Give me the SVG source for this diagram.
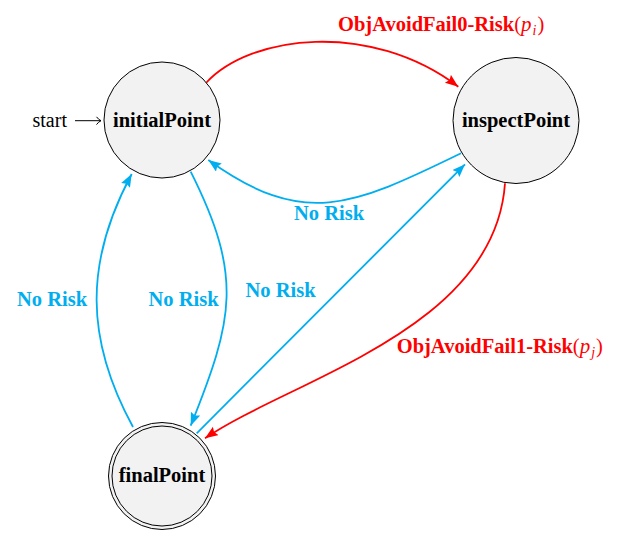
<svg xmlns="http://www.w3.org/2000/svg" width="624" height="540" viewBox="0 0 624 540">
<defs>
<style>
.node{fill:#F2F2F2;stroke:#000;stroke-width:1;}
.nlab{font-family:"Liberation Serif","Times New Roman",serif;font-weight:bold;font-size:20.5px;fill:#000;text-anchor:middle;}
.blue{fill:none;stroke:#00AEEF;stroke-width:1.8;}
.red{fill:none;stroke:#FF0000;stroke-width:1.8;}
.blab{font-family:"Liberation Serif","Times New Roman",serif;font-weight:bold;font-size:20.5px;fill:#00AEEF;}
.rlab{font-family:"Liberation Serif","Times New Roman",serif;font-weight:bold;font-size:20.5px;fill:#FF0000;}
.m{font-weight:normal;}
.mi{font-weight:normal;font-style:italic;}
</style>
<marker id="ab" markerUnits="userSpaceOnUse" markerWidth="16" markerHeight="12" refX="13" refY="5" orient="auto">
<path d="M0,0 L13,5 L0,10 L2,5 z" fill="#00AEEF"/>
</marker>
<marker id="ar" markerUnits="userSpaceOnUse" markerWidth="16" markerHeight="12" refX="13" refY="5" orient="auto">
<path d="M0,0 L13,5 L0,10 L2,5 z" fill="#FF0000"/>
</marker>
</defs>
<rect width="624" height="540" fill="#FFFFFF"/>

<g id="connectors">
<path id="e-init-insp" class="red" d="M206,83 C250,35 370,20 458.3,86.7" marker-end="url(#ar)"/>
<path id="e-insp-init" class="blue" d="M461,153.3 C351,207 303,228 208.3,160" marker-end="url(#ab)"/>
<path id="e-insp-final" class="red" d="M505,183.3 C495,330 290,380 205,438.3" marker-end="url(#ar)"/>
<path id="e-init-final" class="blue" d="M190.7,171.7 C243,276 234,318 190.7,425.7" marker-end="url(#ab)"/>
<path id="e-final-init" class="blue" d="M133,427 C85,339 84.4,262 131.7,174" marker-end="url(#ab)"/>
<path id="e-final-insp" class="blue" d="M196.7,433.3 L465,164.3" marker-end="url(#ab)"/>
<g id="start-arrow">
<line x1="75" y1="120.7" x2="101" y2="120.7" stroke="#000" stroke-width="1"/>
<path d="M96.5,116.8 Q98.5,119.6 101,120.7 Q98.5,121.8 96.5,124.6" fill="none" stroke="#000" stroke-width="1"/>
</g>
</g>

<g id="labels">
<text x="338" y="31" class="rlab">ObjAvoidFail0-Risk<tspan class="m">(</tspan><tspan class="mi" font-size="21">p</tspan><tspan class="mi" font-size="14" dx="1" dy="4">i</tspan><tspan class="m" dx="1" dy="-4">)</tspan></text>
<text x="396.7" y="353" class="rlab">ObjAvoidFail1-Risk<tspan class="m">(</tspan><tspan class="mi" font-size="21">p</tspan><tspan class="mi" font-size="14" dx="1" dy="4">j</tspan><tspan class="m" dx="1" dy="-4">)</tspan></text>
<text x="294" y="220" class="blab">No Risk</text>
<text x="17" y="306" class="blab">No Risk</text>
<text x="148.5" y="306" class="blab">No Risk</text>
<text x="245.5" y="297.3" class="blab">No Risk</text>
<text x="32.5" y="127" font-family="'Liberation Serif','Times New Roman',serif" font-size="20" fill="#000">start</text>
</g>

<g id="initialPoint">
<circle cx="162" cy="120" r="58" class="node"/>
<text x="162" y="127" class="nlab">initialPoint</text>
</g>
<g id="inspectPoint">
<circle cx="516" cy="120.5" r="63" class="node"/>
<text x="516" y="127" class="nlab">inspectPoint</text>
</g>
<g id="finalPoint">
<circle cx="162" cy="476" r="53.5" class="node"/>
<circle cx="162" cy="476" r="50" class="node"/>
<text x="162" y="482" class="nlab">finalPoint</text>
</g>
</svg>
